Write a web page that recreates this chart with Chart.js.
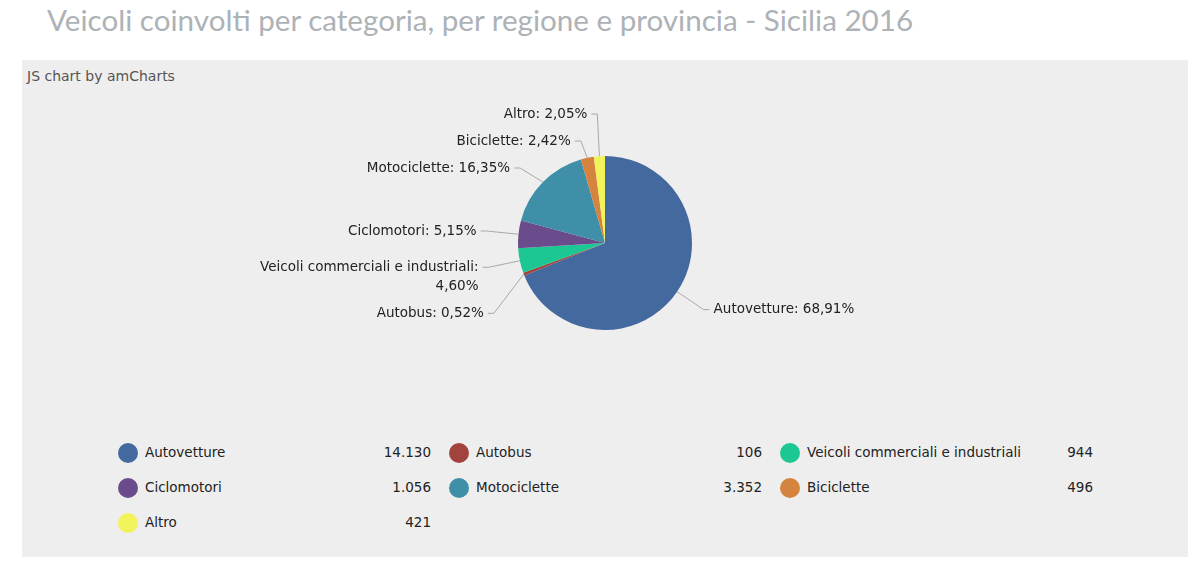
<!DOCTYPE html>
<html>
<head>
<meta charset="utf-8">
<script src="https://cdn.jsdelivr.net/npm/chart.js@4.4.1/dist/chart.umd.min.js"></script>
<style>
  body { margin: 0; background: #fff; width: 1200px; height: 564px; overflow: hidden; position: relative; }
  #title { position: absolute; left: 47px; top: 0px; font-family: Lato, sans-serif; font-weight: 400; font-size: 29.6px; color: #adb2b6; white-space: nowrap; line-height: 40px; }
  #panel { position: absolute; left: 22px; top: 60px; width: 1166px; height: 497px; background: #eeeeee; }
  #credit { position: absolute; left: 5px; top: 8px; font-family: "DejaVu Sans", Verdana, sans-serif; font-size: 14px; color: #555; }
  #pie { position: absolute; left: 0; top: 0; }
  .item { position: absolute; width: 313px; height: 22px; font-family: "DejaVu Sans", Verdana, sans-serif; font-size: 13.5px; color: #222; }
  .item .mk { position: absolute; left: 0; top: 1px; width: 20px; height: 20px; border-radius: 50%; }
  .item .lb { position: absolute; left: 27px; top: 2px; white-space: nowrap; }
  .item .vl { position: absolute; right: 0; top: 2px; }
</style>
</head>
<body>
<div id="title">Veicoli coinvolti per categoria, per regione e provincia - Sicilia 2016</div>
<div id="panel">
  <div id="credit">JS chart by amCharts</div>
  <canvas id="pie" width="1166" height="366"></canvas>
  <div id="legend"></div>
</div>
<script>
// Data
const categories = ['Autovetture', 'Autobus', 'Veicoli commerciali e industriali', 'Ciclomotori', 'Motociclette', 'Biciclette', 'Altro'];
const vehicles = [14130, 106, 944, 1056, 3352, 496, 421];
const sliceColors = ['#43699f', '#a3433d', '#1cc793', '#6a4c8c', '#3e8fa7', '#d5843f', '#f2f25a'];

const FONT = '13.5px "DejaVu Sans", Verdana, sans-serif';

// Italian number formats
function fmtInt(v) {
    return String(v).replace(/\B(?=(\d{3})+(?!\d))/g, '.');
}
function fmtPct(v, total) {
    return (v / total * 100).toFixed(2).replace('.', ',') + '%';
}

// Break a label into lines no wider than maxWidth
function wrapText(ctx, text, maxWidth) {
    const words = text.split(' ');
    const lines = [];
    let line = '';
    words.forEach(w => {
        const test = line ? line + ' ' + w : w;
        if (ctx.measureText(test).width > maxWidth && line) {
            lines.push(line);
            line = w;
        } else {
            line = test;
        }
    });
    lines.push(line);
    return lines;
}

// Outside labels with leader lines, like amCharts
const pieLabels = {
    id: 'pieLabels',
    afterDatasetsDraw(chart) {
        const ctx = chart.ctx;
        const meta = chart.getDatasetMeta(0);
        const data = chart.data.datasets[0].data;
        const total = data.reduce((a, b) => a + b, 0);
        const lineH = 19, gap = 27, labelRadius = 32;

        ctx.save();
        ctx.font = FONT;

        const items = meta.data.map((arc, i) => {
            const a = (arc.startAngle + arc.endAngle) / 2;
            const r = arc.outerRadius;
            const cos = Math.cos(a), sin = Math.sin(a);
            const left = cos < 0;
            const text = chart.data.labels[i] + ': ' + fmtPct(data[i], total);
            return {
                left,
                p0: { x: arc.x + r * cos, y: arc.y + r * sin },
                ex: arc.x + (r + labelRadius) * cos,
                y: arc.y + (r + labelRadius) * sin,
                cy: arc.y,
                lines: wrapText(ctx, text, 230)
            };
        });

        // spread labels on each side so they do not overlap
        [true, false].forEach(side => {
            const upper = items.filter(it => it.left === side && it.y < it.cy).sort((a, b) => a.y - b.y);
            for (let k = 0; k < 60; k++) {
                for (let i = 1; i < upper.length; i++) {
                    const prev = upper[i - 1], cur = upper[i];
                    const need = prev.y + (prev.lines.length - 1) * lineH + gap;
                    if (cur.y < need) {
                        const d = need - cur.y;
                        prev.y -= d * 0.35;
                        cur.y += d * 0.65;
                    }
                }
            }
            const lower = items.filter(it => it.left === side && it.y >= it.cy).sort((a, b) => a.y - b.y);
            let last = upper.length ? upper[upper.length - 1] : null;
            lower.forEach(cur => {
                if (last) {
                    const need = last.y + (last.lines.length - 1) * lineH + gap;
                    if (cur.y < need) cur.y = need;
                }
                last = cur;
            });
        });

        items.forEach(it => {
            const dir = it.left ? -1 : 1;
            ctx.strokeStyle = '#a8a8a8';
            ctx.lineWidth = 1;
            ctx.beginPath();
            ctx.moveTo(it.p0.x, it.p0.y);
            ctx.lineTo(it.ex, it.y);
            ctx.lineTo(it.ex + dir * 6, it.y);
            ctx.stroke();

            ctx.fillStyle = '#222';
            ctx.textAlign = it.left ? 'right' : 'left';
            ctx.textBaseline = 'middle';
            it.lines.forEach((ln, j) => {
                ctx.fillText(ln, it.ex + dir * 10, it.y + j * lineH);
            });
        });
        ctx.restore();
    }
};

const chart = new Chart(document.getElementById('pie'), {
    type: 'pie',
    data: {
        labels: categories,
        datasets: [{
            data: vehicles,
            backgroundColor: sliceColors,
            borderWidth: 0,
            radius: 87
        }]
    },
    options: {
        responsive: false,
        animation: false,
        plugins: {
            legend: { display: false },
            tooltip: { enabled: false }
        }
    },
    plugins: [pieLabels]
});

// Legend with values, three columns
function buildLegend() {
    const box = document.getElementById('legend');
    const ds = chart.data.datasets[0];
    chart.data.labels.forEach((name, i) => {
        const col = i % 3, row = Math.floor(i / 3);
        const el = document.createElement('div');
        el.className = 'item';
        el.style.left = (96 + col * 331) + 'px';
        el.style.top = (382 + row * 35) + 'px';
        el.innerHTML = '<span class="mk" style="background:' + ds.backgroundColor[i] + '"></span>' +
            '<span class="lb">' + name + '</span><span class="vl">' + fmtInt(ds.data[i]) + '</span>';
        box.appendChild(el);
    });
}
buildLegend();
</script>
</body>
</html>
